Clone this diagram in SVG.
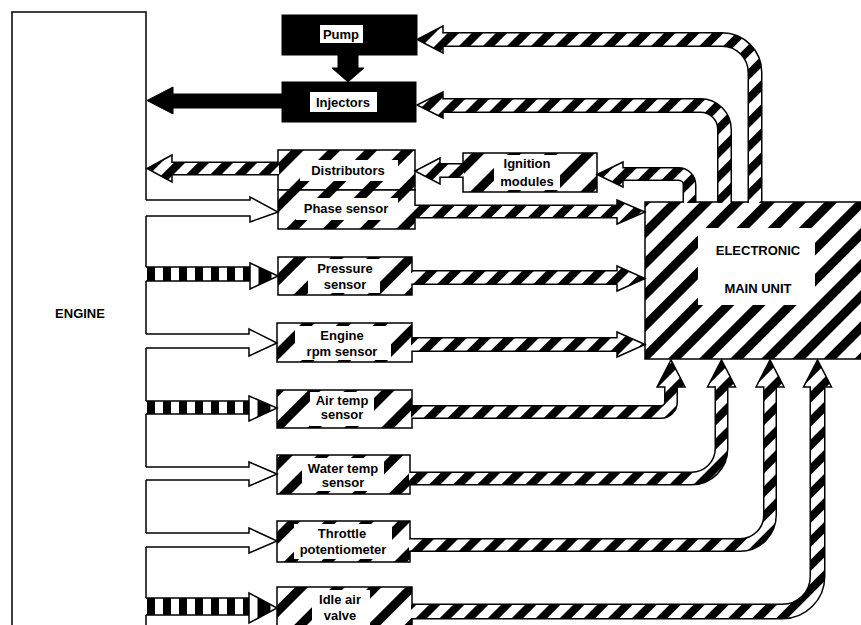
<svg xmlns="http://www.w3.org/2000/svg" width="861" height="625" viewBox="0 0 861 625">
<style>
text{font-family:"Liberation Sans",Arial,sans-serif;font-weight:bold;font-size:13px;fill:#000;text-anchor:middle}
.box{stroke:#000;stroke-width:1.5;fill:url(#boxs)}
.blk{fill:#000;stroke:#000;stroke-width:1}
.wb{fill:#fff;stroke:none}
.eng{fill:none;stroke:#000;stroke-width:1.5}
.to{fill:none;stroke:#000;stroke-linejoin:round}
.ti{fill:none;stroke:url(#str);stroke-linejoin:round}
.hd{fill:url(#str);stroke:#000;stroke-width:1.5;stroke-linejoin:miter}
.hol{fill:#fff;stroke:#000;stroke-width:1.5;stroke-linejoin:miter}
.chk{fill:url(#chk);stroke:none}
.ln{fill:none;stroke:#000;stroke-width:1.5}
</style>
<defs>
<pattern id="str" width="17" height="17" patternUnits="userSpaceOnUse" patternTransform="rotate(45)"><rect width="17" height="17" fill="#fff"/><rect width="8" height="17" fill="#000"/></pattern>
<pattern id="boxs" width="26" height="26" patternUnits="userSpaceOnUse" patternTransform="rotate(45)"><rect width="26" height="26" fill="#fff"/><rect width="9" height="26" fill="#000"/></pattern>
<pattern id="ecus" width="22" height="22" patternUnits="userSpaceOnUse" patternTransform="rotate(45)"><rect width="22" height="22" fill="#fff"/><rect width="9" height="22" fill="#000"/></pattern>
<pattern id="chk" x="147" y="0" width="16" height="10" patternUnits="userSpaceOnUse"><rect width="16" height="10" fill="#fff"/><rect width="8" height="10" fill="#000"/></pattern>
</defs>
<rect width="861" height="625" fill="#fff"/>

<g id="engine">
<path class="eng" d="M12,625 V12 H146 V200 M146,216 V267 M146,281 V334 M146,348 V401 M146,414 V467 M146,480 V533 M146,547 V598 M146,615 V625"/>
<text x="80" y="318" font-size="12">ENGINE</text>
</g>

<g id="pump">
<rect x="282" y="15" width="135" height="40" class="blk"/>
<rect x="320" y="25" width="43" height="18" class="wb"/>
<text x="341" y="38.5">Pump</text>
</g>

<g id="injectors">
<rect x="282" y="82" width="134" height="40" class="blk"/>
<rect x="310" y="92" width="67" height="20" class="wb"/>
<text x="343" y="106.5">Injectors</text>
</g>

<g id="distributors">
<rect x="278" y="150" width="137" height="40" class="box"/>
<rect x="300" y="160" width="98" height="21" class="wb"/>
<text x="348" y="174.5">Distributors</text>
</g>

<g id="phase-sensor">
<rect x="278" y="190" width="137" height="39" class="box"/>
<rect x="296" y="198" width="102" height="22" class="wb"/>
<text x="346" y="213">Phase sensor</text>
</g>

<g id="ignition-modules">
<rect x="463" y="153" width="134" height="39" class="box"/>
<rect x="494" y="155" width="66" height="35" class="wb"/>
<text x="527" y="168">Ignition</text>
<text x="527" y="186">modules</text>
</g>

<g id="pressure-sensor">
<rect x="278" y="257" width="134" height="38" class="box"/>
<rect x="308" y="259" width="72" height="34" class="wb"/>
<text x="345" y="273">Pressure</text>
<text x="345" y="289">sensor</text>
</g>

<g id="rpm-sensor">
<rect x="277" y="323" width="135" height="39" class="box"/>
<rect x="295" y="326" width="96" height="34" class="wb"/>
<text x="342" y="340">Engine</text>
<text x="342" y="356">rpm sensor</text>
</g>

<g id="air-temp-sensor">
<rect x="277" y="390" width="135" height="38" class="box"/>
<rect x="310" y="392" width="64" height="34" class="wb"/>
<text x="342" y="404.5">Air temp</text>
<text x="342" y="419">sensor</text>
</g>

<g id="water-temp-sensor">
<rect x="277" y="455" width="133" height="39" class="box"/>
<rect x="302" y="458" width="82" height="33" class="wb"/>
<text x="343" y="472.5">Water temp</text>
<text x="343" y="487">sensor</text>
</g>

<g id="throttle-potentiometer">
<rect x="277" y="521" width="133" height="41" class="box"/>
<rect x="294" y="524" width="98" height="35" class="wb"/>
<text x="342" y="538">Throttle</text>
<text x="343" y="553.5">potentiometer</text>
</g>

<g id="idle-air-valve">
<rect x="277" y="587" width="135" height="45" class="box"/>
<rect x="312" y="590" width="58" height="35" class="wb"/>
<text x="340" y="604" font-size="12.5">Idle air</text>
<text x="340" y="619.5" font-size="12.5">valve</text>
</g>

<g id="ecu">
<rect x="645" y="202" width="230" height="157" stroke="#000" stroke-width="1.5" fill="url(#ecus)"/>
<rect x="698" y="228" width="117" height="77" class="wb"/>
<text x="758" y="254.5">ELECTRONIC</text>
<text x="758" y="292.5">MAIN UNIT</text>
</g>

<g id="connectors">
<path class="blk" d="M338,55 H358 V68 H364 L348,82 L332,68 H338 Z"/>
<path class="blk" d="M282,94 H173 V87 L147,100.5 L173,114 V108 H282 Z"/>

<path class="to" stroke-width="15" d="M755,202.5 V72.5 A33,33 0 0 0 722,39.5 H443"/>
<path class="hd" d="M443,26 L417,39.5 L443,53 Z"/>
<path class="ti" stroke-width="12" d="M755,203 V72.5 A33,33 0 0 0 722,39.5 H439"/>

<path class="to" stroke-width="15" d="M724.5,202.5 V129.5 A24,24 0 0 0 700.5,105.5 H443"/>
<path class="hd" d="M443,92 L417,105 L443,118 Z"/>
<path class="ti" stroke-width="12" d="M724.5,203 V129.5 A24,24 0 0 0 700.5,105.5 H439"/>

<path class="to" stroke-width="14" d="M689.5,202.5 V185 A11,11 0 0 0 678.5,174 H623"/>
<path class="hd" d="M623,162 L597,174.5 L623,187 Z"/>
<path class="ti" stroke-width="11" d="M689.5,203 V185 A11,11 0 0 0 678.5,174 H619"/>

<path class="to" stroke-width="15" d="M463,170.5 H440"/>
<path class="hd" d="M440,158 L415,171 L440,184 Z"/>
<path class="ti" stroke-width="12" d="M464,170.5 H436"/>

<path class="to" stroke-width="14" d="M278,168.5 H172"/>
<path class="hd" d="M172,155 L147,168.5 L172,182 Z"/>
<path class="ti" stroke-width="11" d="M279,168.5 H168"/>

<path class="hol" d="M146,200 H250 V197 L278,212 L250,222 V216 H146"/>
<rect x="146" y="267" width="104" height="14" class="chk"/>
<path class="ln" d="M146,267 H251 M146,281 H251"/>
<path class="hol" d="M250,263 L278,276 L250,289 Z"/>
<path class="blk" d="M259,267.5 L271,273.5 L271,278.5 L259,284.5 Z"/>
<path class="hol" d="M146,334 H249 V329 L277,343 L249,356 V348 H146"/>
<rect x="146" y="401" width="103" height="13" class="chk"/>
<path class="ln" d="M146,401 H250 M146,414 H250"/>
<path class="hol" d="M249,396 L277,408 L249,421 Z"/>
<path class="blk" d="M258,400.5 L270,405.5 L270,410.5 L258,416.5 Z"/>
<path class="hol" d="M146,467 H249 V462 L277,474 L249,486 V480 H146"/>
<path class="hol" d="M146,533 H249 V528 L277,541 L249,553 V547 H146"/>
<rect x="146" y="598" width="103" height="17" class="chk"/>
<path class="ln" d="M146,598 H250 M146,615 H250"/>
<path class="hol" d="M249,593 L277,608 L249,623 Z"/>
<path class="blk" d="M258,598 L270,604.5 L270,611.5 L258,618 Z"/>

<path class="to" stroke-width="14" d="M415,211.5 H617"/>
<path class="hd" d="M617,200 L645,212 L617,224 Z"/>
<path class="ti" stroke-width="11" d="M414,211.5 H621"/>
<path class="to" stroke-width="15" d="M412,277.5 H617"/>
<path class="hd" d="M617,266 L645,278.5 L617,291 Z"/>
<path class="ti" stroke-width="12" d="M411,277.5 H621"/>
<path class="to" stroke-width="15" d="M412,344.5 H617"/>
<path class="hd" d="M617,332 L645,344.5 L617,357 Z"/>
<path class="ti" stroke-width="12" d="M411,344.5 H621"/>
<path class="to" stroke-width="14" d="M412,412 H661 A10,10 0 0 0 671,402 V387"/>
<path class="hd" d="M657,387 L671,360 L685,387 Z"/>
<path class="ti" stroke-width="11" d="M411,412 H661 A10,10 0 0 0 671,402 V383"/>
<path class="to" stroke-width="14" d="M410,478.5 H691.5 A30,30 0 0 0 721.5,448.5 V387"/>
<path class="hd" d="M707.5,387 L721.5,360 L735.5,387 Z"/>
<path class="ti" stroke-width="11" d="M409,478.5 H691.5 A30,30 0 0 0 721.5,448.5 V383"/>
<path class="to" stroke-width="14" d="M410,545 H740 A30,30 0 0 0 770,515 V387"/>
<path class="hd" d="M756,387 L770,360 L784,387 Z"/>
<path class="ti" stroke-width="11" d="M409,545 H740 A30,30 0 0 0 770,515 V383"/>
<path class="to" stroke-width="16" d="M412,611.5 H782 A35,35 0 0 0 817.5,576.5 V387"/>
<path class="hd" d="M803.5,387 L817.5,360 L831.5,387 Z"/>
<path class="ti" stroke-width="13" d="M411,611.5 H782 A35,35 0 0 0 817.5,576.5 V383"/>
</g>
</svg>
